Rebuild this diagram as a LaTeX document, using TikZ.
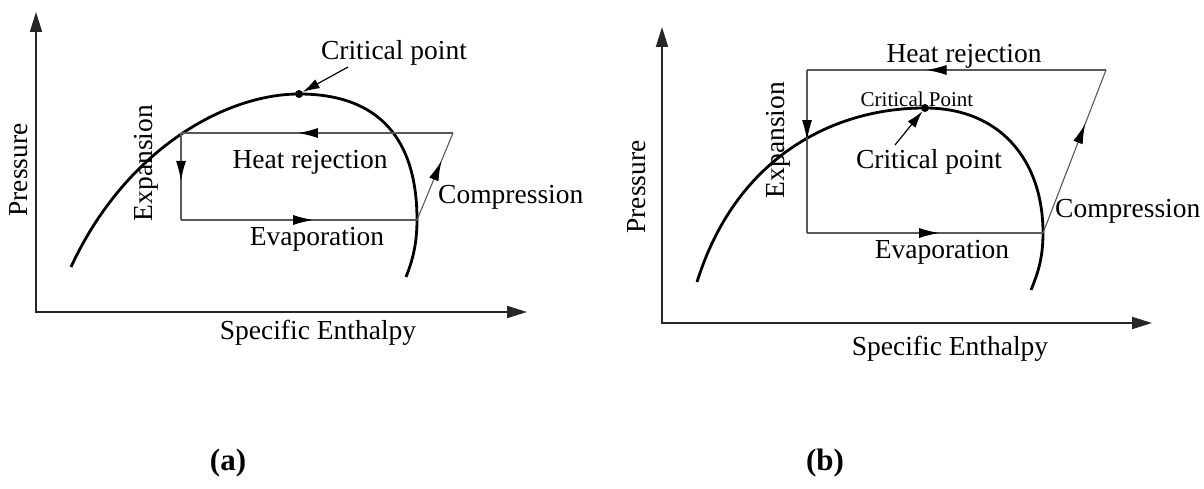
\documentclass[tikz,border=0pt]{standalone}
\usepackage{fontspec}
\setmainfont{Liberation Serif}
\usetikzlibrary{arrows.meta,decorations.markings}
\tikzset{
 axisline/.style={line width=2pt, draw=black!85, {Triangle[length=20pt,width=12pt]}-{Triangle[length=20pt,width=12pt]}},
 dome/.style={line width=2.8pt, black},
 cyc/.style={line width=1.1pt, draw=black!65},
 midarr/.style={postaction={decorate}, decoration={markings, mark=at position #1 with {\arrow[black]{Latex[length=20pt,width=10pt]}}}},
 ptr/.style={line width=1.2pt, -{Latex[length=17pt,width=10pt]}},
 lbl/.style={font=\fontsize{27.5}{30}\selectfont, inner sep=0pt},
 smalllbl/.style={font=\fontsize{21}{24}\selectfont, inner sep=0pt},
 caplbl/.style={font=\fontsize{31}{34}\selectfont\bfseries, inner sep=0pt},
 dot/.style={circle, fill=black, inner sep=0pt, minimum size=8pt},
}
\begin{document}
\begin{tikzpicture}[x=1pt,y=-1pt]
\useasboundingbox (0,0) rectangle (1204,489);
% ---------- panel (a) ----------
\coordinate (Y1) at (36,12);
\coordinate (X1) at (527,312);
\draw[axisline] (Y1) |- (X1);
\draw[dome] (71,267) .. controls (125,150) and (225,94) .. (299,94)
  .. controls (380,94) and (417,140) .. (417,220)
  .. controls (417,245) and (412,262) .. (406,277);
\node[dot] (cp1) at (299,94) {};
\coordinate (A1) at (181,133);
\coordinate (B1) at (181,220);
\coordinate (C1) at (417,220);
\coordinate (D1) at (453,133);
\draw[cyc, midarr=0.57] (D1) -- (A1);
\draw[cyc, midarr=0.55] (A1) -- (B1);
\draw[cyc, midarr=0.56] (B1) -- (C1);
\draw[cyc, midarr=0.68] (C1) -- (D1);
\node[lbl] (crit1) at (394,53) {Critical point};
\coordinate (p1) at (348,67);
\draw[ptr] (p1) -- (cp1);
\node[lbl] (heat1) at (310,162) {Heat rejection};
\node[lbl, anchor=west] (comp1) at (438,197) {Compression};
\node[lbl] (evap1) at (317,239) {Evaporation};
\node[lbl, rotate=90] (exp1) at (146,163) {Expansion};
\node[lbl, rotate=90] (pres1) at (19,170) {Pressure};
\node[lbl] (enth1) at (318,333) {Specific Enthalpy};
\node[caplbl] (capa) at (228,463) {(a)};
% ---------- panel (b) ----------
\coordinate (Y2) at (662,27);
\coordinate (X2) at (1152,323);
\draw[axisline] (Y2) |- (X2);
\draw[dome] (697,282) .. controls (735,160) and (830,108) .. (925,108)
  .. controls (1000,108) and (1043,160) .. (1043,233)
  .. controls (1043,260) and (1037,275) .. (1031,290);
\node[dot] (cp2) at (925,108) {};
\coordinate (A2) at (807,70);
\coordinate (B2) at (807,233);
\coordinate (C2) at (1043,233);
\coordinate (D2) at (1106,70);
\draw[cyc, midarr=0.6] (D2) -- (A2);
\draw[cyc, midarr=0.43] (A2) -- (B2);
\draw[cyc, midarr=0.56] (B2) -- (C2);
\draw[cyc, midarr=0.67] (C2) -- (D2);
\node[lbl] (heat2) at (964,56) {Heat rejection};
\node[smalllbl] (critsm) at (917,99) {Critical Point};
\node[lbl] (crit2) at (929,162) {Critical point};
\coordinate (p2) at (895,145);
\draw[ptr] (p2) -- (cp2);
\node[lbl, anchor=west] (comp2) at (1055,211) {Compression};
\node[lbl] (evap2) at (942,252) {Evaporation};
\node[lbl, rotate=90] (exp2) at (778,140) {Expansion};
\node[lbl, rotate=90] (pres2) at (637,187) {Pressure};
\node[lbl] (enth2) at (950,349) {Specific Enthalpy};
\node[caplbl] (capb) at (825,463) {(b)};
\end{tikzpicture}
\end{document}
